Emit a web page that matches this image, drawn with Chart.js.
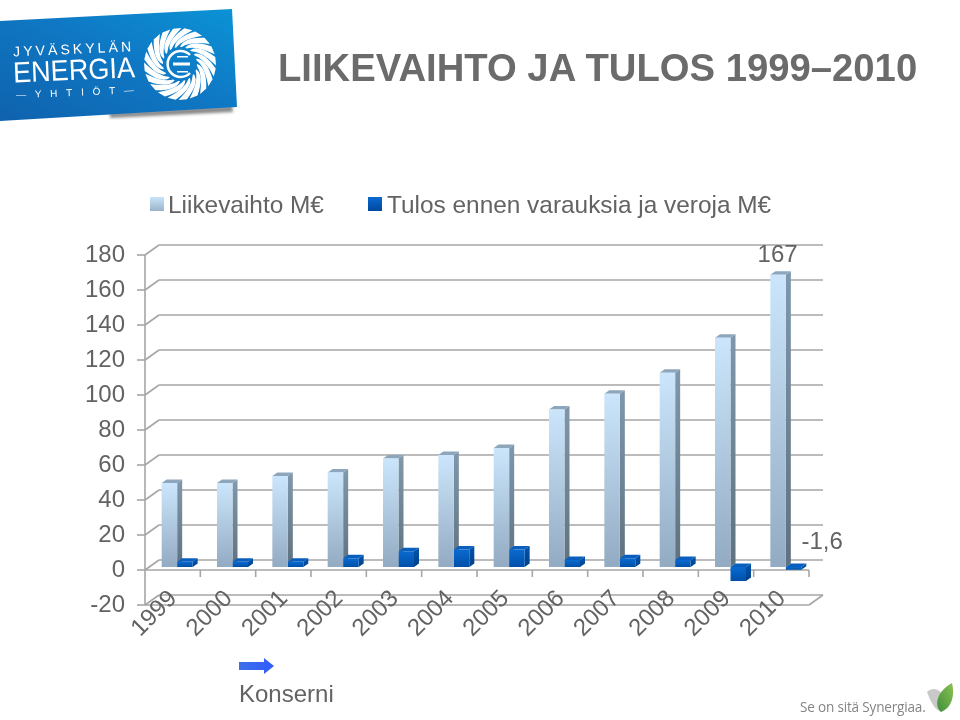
<!DOCTYPE html>
<html>
<head>
<meta charset="utf-8">
<style>
  html, body { margin: 0; padding: 0; background: #fff; }
  body { width: 960px; height: 720px; position: relative; overflow: hidden; font-family: "Liberation Sans", Arial, sans-serif; color: #636363; }
  canvas { position: absolute; left: 0; top: 0; }
  .t { position: absolute; white-space: nowrap; }
  #title { left: 278px; top: 46px; font-size: 38.25px; font-weight: bold; color: #6b6b6b; line-height: 44px; }
  .leg { top: 191px; font-size: 24.4px; line-height: 28px; }
  .sw { position: absolute; top: 197px; width: 14px; height: 14px; }
  #konserni { left: 239px; top: 680px; font-size: 24px; line-height: 28px; }
  #slogan { left: 800px; top: 698px; font-size: 13.6px; line-height: 18px; font-family: "Open Sans", sans-serif; color: #858585; letter-spacing: -0.2px; }
  svg { position: absolute; left: 0; top: 0; }
</style>
</head>
<body>
<canvas id="chart" width="960" height="720"></canvas>
<svg id="deco" width="960" height="720" xmlns="http://www.w3.org/2000/svg">
  <defs>
    <linearGradient id="ban" x1="0" y1="1" x2="1" y2="0">
      <stop offset="0" stop-color="#0f62ad"/>
      <stop offset="0.55" stop-color="#0f78c4"/>
      <stop offset="1" stop-color="#0b93d6"/>
    </linearGradient>
    <linearGradient id="arrow" x1="0" y1="0" x2="1" y2="0">
      <stop offset="0" stop-color="#3f6fe8"/>
      <stop offset="1" stop-color="#2f5cff"/>
    </linearGradient>
    <linearGradient id="leaf" x1="0" y1="1" x2="1" y2="0">
      <stop offset="0" stop-color="#3f8f3a"/>
      <stop offset="1" stop-color="#8cc152"/>
    </linearGradient>
    <filter id="blur"><feGaussianBlur stdDeviation="1.5"/></filter>
  </defs>
  <polygon points="110,113 232,106 233,112 110,118" fill="#888" filter="url(#blur)"/>
  <polygon points="0,21 232,9 237,107 0,121" fill="url(#ban)"/>
  <g id="swirl"></g>
  <g transform="rotate(-2.5 70 70)" fill="#fff" font-family="Liberation Sans, sans-serif">
    <text x="14" y="54" font-size="14" textLength="118">JYVÄSKYLÄN</text>
    <text x="13" y="80" font-size="29" textLength="122" lengthAdjust="spacingAndGlyphs">ENERGIA</text>
    <text x="15" y="96" font-size="10" textLength="118">—YHTIÖT—</text>
  </g>
  <polygon points="239,662 264,662 264,658 274,666 264,674 264,670 239,670" fill="url(#arrow)"/>
  <path d="M927 692 C 934 686 941 690 945 698 L 942 712 C 934 710 930 700 927 692 Z" fill="#c9c9c9"/>
  <path d="M952 683 C 955 695 952 708 941 712 C 934 706 936 692 952 683 Z" fill="url(#leaf)"/>
</svg>
<div id="title" class="t">LIIKEVAIHTO JA TULOS 1999–2010</div>
<div class="sw" style="left:150px;background:linear-gradient(#c9e4fa,#9ab3c9)"></div>
<div id="leg1" class="t leg" style="left:168px"></div>
<div class="sw" style="left:368px;background:linear-gradient(#0a6ad0,#00489e)"></div>
<div id="leg2" class="t leg" style="left:387px"></div>
<div id="konserni" class="t">Konserni</div>
<div id="slogan" class="t">Se on sitä Synergiaa.</div>
<script src="https://cdn.jsdelivr.net/npm/chart.js@4/dist/chart.umd.js"></script>
<script>
const years = ["1999", "2000", "2001", "2002", "2003", "2004", "2005", "2006", "2007", "2008", "2009", "2010"];
const liikevaihto = [48, 48, 52, 54, 62, 64, 68, 90, 99, 111, 131, 167];
const tulos = [3, 3, 3, 5, 9, 10, 10, 4, 5, 4, -8, -1.6];
const seriesNames = ["Liikevaihto M€", "Tulos ennen varauksia ja veroja M€"];
const valueLabels = ["167", "-1,6"];

document.getElementById("leg1").textContent = seriesNames[0];
document.getElementById("leg2").textContent = seriesNames[1];

// logo swirl, only decoration
let blades = "";
for (let i = 0; i < 20; i++) {
  const a = i * Math.PI * 2 / 20;
  const p = (r, t) => (180 + r * Math.cos(a + t)).toFixed(1) + " " + (64 + r * Math.sin(a + t)).toFixed(1);
  blades += '<path d="M' + p(17, 0) + " Q" + p(27, 0.12) + " " + p(36, 0.75) + " L" + p(36, 0.98) + " Q" + p(25, 0.42) + " " + p(17, 0.1) + 'Z" fill="#fff"/>';
}
blades += '<path d="M190 55 A13 13 0 1 0 190 73" fill="none" stroke="#fff" stroke-width="2.5"/>';
blades += '<rect x="173" y="62.5" width="17" height="3" fill="#fff"/><rect x="177" y="56" width="11" height="1.5" fill="#fff"/><rect x="177" y="71" width="11" height="1.5" fill="#fff"/>';
document.getElementById("swirl").innerHTML = blades;

const gridColor = "#a6a6a6";
const textColor = "#636363";
const back = { x: 14, y: -10 };
const barPlane = { x: 4.5, y: -3 };
const barDepth = { x: 5, y: -3.5 };

function line(ctx, x1, y1, x2, y2) {
  ctx.beginPath();
  ctx.moveTo(x1, y1);
  ctx.lineTo(x2, y2);
  ctx.stroke();
}

function face(ctx, pts, fill) {
  ctx.fillStyle = fill;
  ctx.beginPath();
  pts.forEach((p, i) => (i ? ctx.lineTo(p[0], p[1]) : ctx.moveTo(p[0], p[1])));
  ctx.closePath();
  ctx.fill();
}

function barGradient(context, top, bottom) {
  const c = context.chart;
  if (!c.chartArea || context.type !== "data") return top;
  const ys = c.scales.y;
  const a = ys.getPixelForValue(Math.max(context.raw, 0));
  const b = ys.getPixelForValue(Math.min(context.raw, 0));
  const g = c.ctx.createLinearGradient(0, a, 0, b);
  g.addColorStop(0, top);
  g.addColorStop(1, bottom);
  return g;
}

function drawDepth(chart, index, sideTop, sideBottom, topFill) {
  const ctx = chart.ctx;
  chart.getDatasetMeta(index).data.forEach((bar) => {
    const top = Math.min(bar.y, bar.base);
    const bottom = Math.max(bar.y, bar.base);
    const r = bar.x + bar.width / 2;
    const l = bar.x - bar.width / 2;
    const g = ctx.createLinearGradient(0, top, 0, bottom);
    g.addColorStop(0, sideTop);
    g.addColorStop(1, sideBottom);
    face(ctx, [[r, top], [r + barDepth.x, top + barDepth.y], [r + barDepth.x, bottom + barDepth.y], [r, bottom]], g);
    face(ctx, [[l, top], [l + barDepth.x, top + barDepth.y], [r + barDepth.x, top + barDepth.y], [r, top]], topFill);
  });
}

const wallsPlugin = {
  id: "walls",
  beforeDraw(chart) {
    const { ctx, scales } = chart;
    const xs = scales.x, ys = scales.y;
    const left = xs.left, right = xs.right;
    ctx.save();
    ctx.strokeStyle = gridColor;
    ctx.lineWidth = 1.6;
    ys.ticks.forEach((t) => {
      const y = ys.getPixelForValue(t.value);
      line(ctx, left - 8, y, left, y);
      line(ctx, left, y, left + back.x, y + back.y);
      line(ctx, left + back.x, y + back.y, right + back.x, y + back.y);
    });
    line(ctx, left, ys.top, left, ys.bottom);
    const y0 = ys.getPixelForValue(0);
    line(ctx, left, y0, right, y0);
    const yb = ys.bottom;
    line(ctx, left, yb, right, yb);
    line(ctx, right, yb, right + back.x, yb + back.y);
    years.forEach((y, i) => {
      const x = left + (right - left) * (i + 1) / years.length;
      line(ctx, x, y0, x, y0 + 7);
    });
    ctx.restore();
  },
  beforeDatasetsDraw(chart) {
    chart.ctx.save();
    chart.ctx.translate(barPlane.x, barPlane.y);
    // depth faces go under every front face
    drawDepth(chart, 0, "#7f97ab", "#5f717f", "#8da6bb");
    drawDepth(chart, 1, "#0050a6", "#00408a", "#0a5fbe");
  },
  afterDatasetsDraw(chart) {
    const ctx = chart.ctx;
    ctx.restore();
    ctx.save();
    ctx.fillStyle = textColor;
    ctx.font = '24px "Liberation Sans", Arial, sans-serif';
    ctx.textAlign = "center";
    ctx.textBaseline = "middle";
    const big = chart.getDatasetMeta(0).data[11];
    ctx.fillText(valueLabels[0], big.x + 4, big.y - 22);
    const small = chart.getDatasetMeta(1).data[11];
    ctx.fillText(valueLabels[1], small.x + 33, small.y - 30);
    ctx.restore();
  }
};

new Chart(document.getElementById("chart"), {
  type: "bar",
  data: {
    labels: years,
    datasets: [
      {
        label: seriesNames[0],
        data: liikevaihto,
        clip: false,
        backgroundColor: (c) => barGradient(c, "#cbe6fc", "#93abc2"),
        borderWidth: 0,
        categoryPercentage: 0.56,
        barPercentage: 1
      },
      {
        label: seriesNames[1],
        data: tulos,
        clip: false,
        backgroundColor: (c) => barGradient(c, "#0a6ad0", "#0050a8"),
        borderWidth: 0,
        categoryPercentage: 0.56,
        barPercentage: 1
      }
    ]
  },
  options: {
    responsive: false,
    animation: false,
    layout: { padding: { top: 255, right: 151, left: 0, bottom: 0 } },
    plugins: { legend: { display: false }, title: { display: false }, tooltip: { enabled: false } },
    scales: {
      x: {
        afterFit(s) { s.height = 115; },
        grid: { display: false, drawTicks: false },
        border: { display: false },
        ticks: {
          autoSkip: false,
          minRotation: 45,
          maxRotation: 45,
          mirror: true,
          padding: 0,
          labelOffset: 21,
          color: textColor,
          font: { family: '"Liberation Sans", Arial, sans-serif', size: 24 }
        }
      },
      y: {
        min: -20,
        max: 180,
        afterFit(s) { s.width = 145; },
        grid: { display: false, drawTicks: false },
        border: { display: false },
        ticks: {
          stepSize: 20,
          padding: 20,
          color: textColor,
          font: { family: '"Liberation Sans", Arial, sans-serif', size: 24 }
        }
      }
    }
  },
  plugins: [wallsPlugin]
});
</script>
</body>
</html>
